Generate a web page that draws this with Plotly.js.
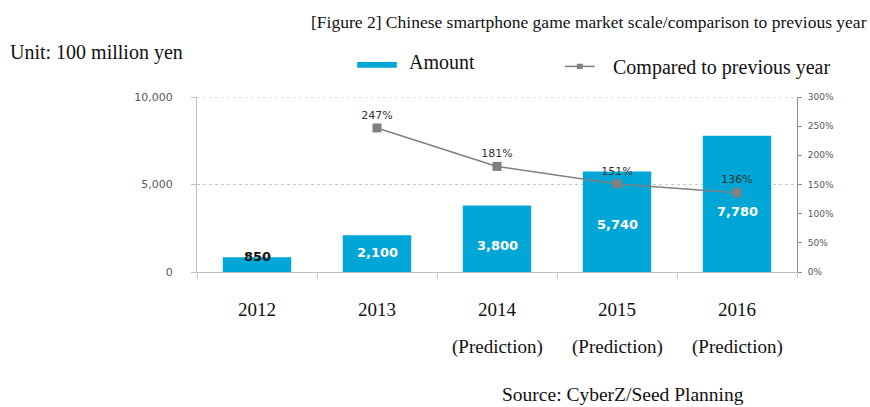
<!DOCTYPE html>
<html>
<head>
<meta charset="utf-8">
<script src="https://cdn.plot.ly/plotly-3.0.1.min.js"></script>
<style>html,body{margin:0;padding:0;background:#fff;}#chart{width:870px;height:407px;}</style>
</head>
<body>
<div id="chart"></div>
<script>
const years = ["2012", "2013", "2014", "2015", "2016"];
const notes = ["", "", "(Prediction)", "(Prediction)", "(Prediction)"];
const amounts = [850, 2100, 3800, 5740, 7780];
const growthYears = ["2013", "2014", "2015", "2016"];
const growthPct = [247, 181, 151, 136];
const leftTicks = [0, 5000, 10000];
const rightTicks = [0, 50, 100, 150, 200, 250, 300];

const titleText = "[Figure 2] Chinese smartphone game market scale/comparison to previous year";
const unitText = "Unit: 100 million yen";
const sourceText = "Source: CyberZ/Seed Planning";
const barName = "Amount";
const lineName = "Compared to previous year";

const serif = "Liberation Serif, Times New Roman, serif";
const sans = "DejaVu Sans, Verdana, sans-serif";
const blue = "#00A6D6";
const gray = "#808080";

const fmt = v => v.toLocaleString("en-US");

// styling: vertical pixel offsets of the value labels below each bar top
const labelShift = [1, -17, -40, -53, -76];
const labelColor = ["#111111", "#ffffff", "#ffffff", "#ffffff", "#ffffff"];

const barTrace = {
  type: "bar",
  x: years,
  y: amounts,
  width: 0.57,
  marker: {color: blue},
  hoverinfo: "skip",
  showlegend: false
};

const lineTrace = {
  type: "scatter",
  mode: "lines+markers+text",
  x: growthYears,
  y: growthPct,
  yaxis: "y2",
  line: {color: gray, width: 1.5},
  marker: {symbol: "square", size: 9, color: gray},
  text: growthPct.map(v => v + "%"),
  textposition: "top center",
  textfont: {family: sans, size: 11, color: "#333333"},
  cliponaxis: false,
  hoverinfo: "skip",
  showlegend: false
};

const annotations = [
  {xref: "paper", yref: "paper", x: 1.12, y: 1.43, xanchor: "right", yanchor: "middle",
   text: titleText, showarrow: false, font: {family: serif, size: 17.5, color: "#111"}},
  {xref: "paper", yref: "paper", x: -0.315, y: 1.255, xanchor: "left", yanchor: "middle",
   text: unitText, showarrow: false, font: {family: serif, size: 20, color: "#111"}},
  {xref: "paper", yref: "paper", x: 0.35, y: 1.20, xanchor: "left", yanchor: "middle",
   text: barName, showarrow: false, font: {family: serif, size: 20, color: "#111"}},
  {xref: "paper", yref: "paper", x: 0.69, y: 1.17, xanchor: "left", yanchor: "middle",
   text: lineName, showarrow: false, font: {family: serif, size: 20, color: "#111"}},
  {xref: "paper", yref: "paper", x: 0.505, y: -0.70, xanchor: "left", yanchor: "middle",
   text: sourceText, showarrow: false, font: {family: serif, size: 19.5, color: "#111"}}
];
amounts.forEach((v, i) => {
  annotations.push({xref: "x", yref: "y", x: i, y: v, yanchor: "middle", yshift: labelShift[i],
    text: fmt(v), showarrow: false, font: {family: sans, size: 13, color: labelColor[i], weight: "bold"}});
});
years.forEach((yr, i) => {
  if (notes[i]) {
    annotations.push({xref: "x", yref: "paper", x: i, y: 0, yanchor: "middle", yshift: -75,
      text: notes[i], showarrow: false, font: {family: serif, size: 19, color: "#111"}});
  }
});

const shapes = [
  {type: "line", xref: "paper", yref: "y", x0: 0, x1: 1, y0: leftTicks[leftTicks.length - 1], y1: leftTicks[leftTicks.length - 1],
   line: {color: "#c8c8c8", width: 1, dash: "dot"}},
  {type: "rect", xref: "paper", yref: "paper", x0: 0.267, x1: 0.333, y0: 1.167, y1: 1.2, fillcolor: blue, line: {width: 0}},
  {type: "line", xref: "paper", yref: "paper", x0: 0.613, x1: 0.663, y0: 1.175, y1: 1.175, line: {color: gray, width: 1.5}},
  {type: "rect", xref: "paper", yref: "paper", x0: 0.633, x1: 0.643, y0: 1.16, y1: 1.19, fillcolor: gray, line: {width: 0}}
];

const layout = {
  width: 870, height: 407,
  margin: {l: 197, r: 73, t: 97, b: 135},
  paper_bgcolor: "#ffffff",
  plot_bgcolor: "#ffffff",
  showlegend: false,
  xaxis: {
    type: "category",
    categoryorder: "array",
    categoryarray: years,
    range: [-0.5, years.length - 0.5],
    autorange: false,
    showline: true, linecolor: "#bfbfbf", linewidth: 1,
    ticks: "outside", tickson: "boundaries", ticklen: 5, tickcolor: "#bfbfbf",
    ticklabelstandoff: 20,
    tickangle: 0,
    tickfont: {family: serif, size: 19, color: "#111"},
    showgrid: false, zeroline: false, fixedrange: true
  },
  yaxis: {
    range: [0, 10000],
    autorange: false,
    tickvals: leftTicks,
    ticktext: leftTicks.map(fmt),
    showline: true, linecolor: "#bfbfbf", linewidth: 1,
    ticks: "outside", ticklen: 5, tickcolor: "#bfbfbf",
    ticklabelstandoff: 16,
    tickfont: {family: sans, size: 11, color: "#595959"},
    showgrid: true, gridcolor: "#c8c8c8", griddash: "dot", gridwidth: 1,
    zeroline: false, fixedrange: true
  },
  yaxis2: {
    overlaying: "y", side: "right",
    range: [0, 300],
    autorange: false,
    tickvals: rightTicks,
    ticktext: rightTicks.map(v => v + "%"),
    showline: true, linecolor: "#8c8c8c", linewidth: 1,
    ticks: "outside", ticklen: 4, tickcolor: "#8c8c8c",
    ticklabelstandoff: 4,
    tickfont: {family: sans, size: 9, color: "#595959"},
    showgrid: false, zeroline: false, fixedrange: true
  },
  annotations: annotations,
  shapes: shapes
};

Plotly.newPlot("chart", [barTrace, lineTrace], layout, {displayModeBar: false, staticPlot: true});
</script>
</body>
</html>
